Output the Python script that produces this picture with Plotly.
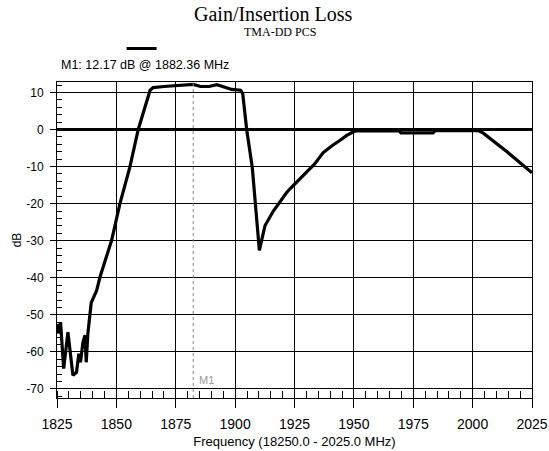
import plotly.graph_objects as go

# Measured gain sweep of the TMA-DD PCS unit (frequency in MHz, gain in dB)
freq_mhz = [
    1825.0, 1825.5, 1826.5, 1827.8, 1829.6, 1831.7, 1833.2, 1834.2, 1834.9,
    1835.9, 1836.8, 1837.3, 1838.0, 1838.8, 1839.4, 1841.7, 1843.1, 1848.0,
    1851.5, 1855.7, 1859.2, 1864.2, 1865.5, 1870.0, 1876.0, 1879.0, 1882.36,
    1885.5, 1889.0, 1892.3, 1895.0, 1898.6, 1902.3, 1903.2, 1904.9, 1907.2,
    1910.2, 1912.6, 1916.1, 1919.0, 1921.7, 1923.1, 1925.5, 1929.0, 1933.5,
    1937.0, 1940.5, 1944.2, 1947.0, 1950.5, 1960.0, 1969.0, 1969.8, 1983.3,
    1984.3, 1995.0, 2002.4, 2004.5, 2015.0, 2025.0,
]
gain_db = [
    -52.5, -55.0, -52.0, -64.5, -54.7, -66.3, -65.5, -60.5, -62.8,
    -57.5, -55.5, -62.8, -55.0, -50.0, -46.8, -43.4, -39.8, -29.9,
    -20.0, -10.1, 0.0, 10.6, 11.3, 11.6, 11.9, 12.0, 12.17,
    11.6, 11.6, 12.1, 11.5, 10.8, 10.6, 9.7, -0.2, -10.1,
    -32.6, -25.9, -22.0, -19.3, -17.0, -16.0, -14.5, -12.3, -9.3,
    -6.3, -4.5, -2.9, -1.6, -0.4, -0.3, -0.3, -0.9, -0.9,
    -0.3, -0.3, -0.3, -1.0, -6.3, -11.7,
]

# Marker M1
m1_name = "M1"
m1_freq = 1882.36
m1_gain = 12.17

x_ticks = [1825, 1850, 1875, 1900, 1925, 1950, 1975, 2000, 2025]
y_ticks = [-70, -60, -50, -40, -30, -20, -10, 0, 10]

title_text = "Gain/Insertion Loss"
subtitle_text = "TMA-DD PCS"
x_title = "Frequency (18250.0 - 2025.0 MHz)"
y_title = "dB"

SANS = "Liberation Sans, Arial, sans-serif"
SERIF = "Liberation Serif, Times New Roman, serif"

fig = go.Figure()
fig.add_trace(go.Scatter(
    x=freq_mhz, y=gain_db, mode="lines", name=" ",
    line=dict(color="black", width=3.2),
    showlegend=True, hoverinfo="x+y",
))

# Marker line and its label
fig.add_vline(x=m1_freq, line=dict(color="#888888", width=1, dash="dot"))
fig.add_annotation(
    x=m1_freq, y=-70, xref="x", yref="y", text=m1_name, showarrow=False,
    xanchor="left", yanchor="bottom", xshift=4, yshift=1,
    font=dict(family=SANS, size=11, color="#999999"),
)
fig.add_annotation(
    x=0.004, y=1.054, xref="paper", yref="paper",
    text=f"{m1_name}: {m1_gain:.2f} dB @ {m1_freq:.2f} MHz", showarrow=False,
    xanchor="left", yanchor="middle",
    font=dict(family=SANS, size=12.5, color="black"),
)

# Title block
fig.add_annotation(
    x=0.4568, y=1.215, xref="paper", yref="paper", text=title_text,
    showarrow=False, xanchor="center", yanchor="middle",
    font=dict(family=SERIF, size=20, color="black"),
)
fig.add_annotation(
    x=0.4705, y=1.158, xref="paper", yref="paper", text=subtitle_text,
    showarrow=False, xanchor="center", yanchor="middle",
    font=dict(family=SERIF, size=12, color="black"),
)

fig.update_layout(
    width=549, height=451,
    margin=dict(l=57, r=17, t=82, b=53, pad=0, autoexpand=False),
    paper_bgcolor="white", plot_bgcolor="white",
    font=dict(family=SANS, color="black"),
    legend=dict(
        x=0.136, y=1.106, xanchor="left", yanchor="middle",
        bgcolor="rgba(0,0,0,0)", font=dict(size=10), itemwidth=30,
        tracegroupgap=0,
    ),
)
fig.update_xaxes(
    range=[1825, 2025], tickvals=x_ticks, ticktext=[str(v) for v in x_ticks],
    automargin=False,
    showgrid=True, gridcolor="black", gridwidth=1,
    showline=True, linecolor="black", linewidth=1, mirror=True,
    ticks="outside", ticklen=9, tickcolor="black", tickwidth=1,
    ticklabelstandoff=4,
    tickfont=dict(family=SANS, size=14),
    minor=dict(ticks="inside", dtick=5, tick0=1825, ticklen=7,
               tickcolor="black", showgrid=False),
    zeroline=False,
    title=dict(text=x_title, font=dict(family=SANS, size=13), standoff=6),
)
fig.update_yaxes(
    range=[-72.43, 12.81], tickvals=y_ticks, ticktext=[str(v) for v in y_ticks],
    automargin=False,
    showgrid=True, gridcolor="black", gridwidth=1,
    showline=True, linecolor="black", linewidth=1, mirror=True,
    ticks="outside", ticklen=6, tickcolor="black", tickwidth=1,
    ticklabelstandoff=4,
    tickfont=dict(family=SANS, size=12),
    minor=dict(ticks="inside", dtick=2, tick0=0, ticklen=5,
               tickcolor="black", showgrid=False),
    zeroline=True, zerolinecolor="black", zerolinewidth=3,
    title=dict(text=y_title, font=dict(family=SANS, size=12), standoff=2),
)

fig.write_html("out.html")
